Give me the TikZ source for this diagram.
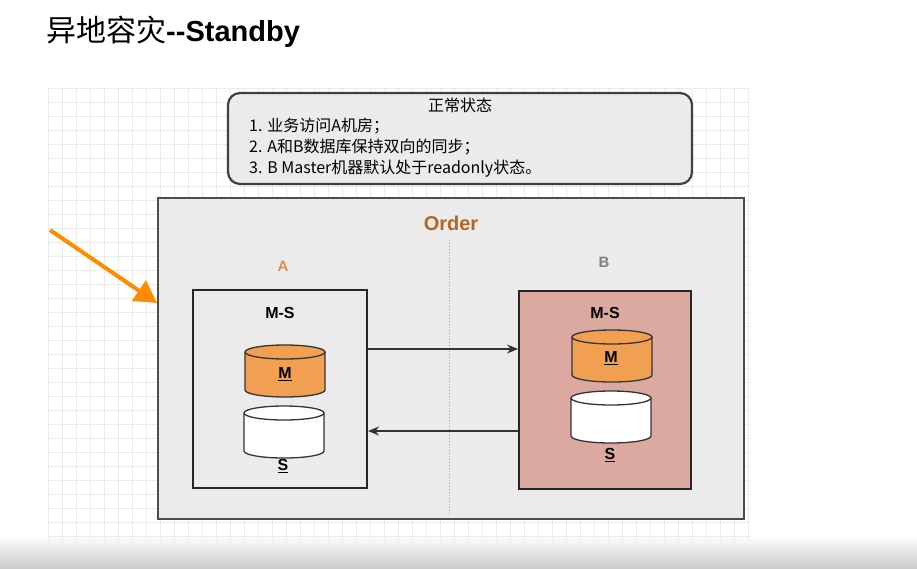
\documentclass[tikz,border=0pt]{standalone}
\usepackage{fontspec}
\setmainfont{Liberation Sans}
\newfontfamily\cjk{Noto Sans CJK SC}
\usetikzlibrary{arrows.meta}
\definecolor{boxgray}{HTML}{EBEBEB}
\definecolor{orderc}{HTML}{B5651D}
\definecolor{cylor}{HTML}{F0A050}
\definecolor{pinkb}{HTML}{DBA9A0}
\tikzset{
 dbbox/.style={draw=black!85,line width=1.8pt},
 lbl/.style={font=\bfseries\fontsize{16}{18}\selectfont},
 link/.style={-{Stealth[length=11pt,width=9pt]},line width=1.4pt,black!80},
 pics/cyl/.style={code={
   \fill[#1] (-40,-19) rectangle (40,19);
   \fill[#1] (0,19) ellipse[x radius=40,y radius=7];
   \fill[#1] (0,-19) ellipse[x radius=40,y radius=7];
   \draw[black!80,line width=1.3pt] (-40,-19) -- (-40,19) arc[start angle=180,end angle=0,x radius=40,y radius=7] -- (40,-19);
   \draw[black!80,line width=1.3pt] (0,-19) ellipse[x radius=40,y radius=7];
 }}
}
\begin{document}
\begin{tikzpicture}[x=1pt,y=-1pt]
\useasboundingbox (0,0) rectangle (917,568);
\fill[white] (0,0) rectangle (917,568);
\shade[top color=white,bottom color=black!20] (0,535) rectangle (917,568);
% grid
\foreach \x in {48,62,...,750} \draw[black!8,line width=0.5pt] (\x,88) -- (\x,540);
\foreach \y in {88,102,...,540} \draw[black!8,line width=0.5pt] (48,\y) -- (750,\y);
% title
\node[anchor=west,inner sep=0] (title) at (46,32) {{\cjk\fontsize{30}{34}\selectfont 异地容灾}{\bfseries\fontsize{29}{34}\selectfont {-}{-}Standby}};
% note
\draw[fill=boxgray,draw=black!75,line width=2.2pt,rounded corners=12pt] (228,93) rectangle (692,184);
\node (n0) at (460,105) {\cjk\fontsize{16}{18}\selectfont 正常状态};
\node[anchor=west,align=left,inner sep=0,font=\cjk\fontsize{16}{21}\selectfont] (note) at (249,148) {1. 业务访问A机房；\\2. A和B数据库保持双向的同步；\\3. B Master机器默认处于readonly状态。};
% order
\draw[fill=boxgray,draw=black!70,line width=2.2pt] (158,198) rectangle (744,519);
\node[text=orderc,font=\bfseries\fontsize{20}{22}\selectfont] (order) at (451,223) {Order};
\draw[black!40,dotted,line width=1pt] (449,240) -- (449,516);
\node[text=cylor!90!black,font=\bfseries\fontsize{15}{17}\selectfont] (la) at (283,266) {A};
\node[text=black!50,font=\bfseries\fontsize{15}{17}\selectfont] (lb) at (604,262) {B};
% A box
\draw[dbbox,fill=boxgray] (193,290) rectangle (367,488);
\node[lbl] (msa) at (280,313) {M-S};
\pic at (285,371) {cyl=cylor};
\node[lbl] (ma) at (285,374) {\underline{M}};
\pic at (284,432) {cyl=white};
\node[lbl] (sla) at (283,466) {\underline{S}};
% B box
\draw[dbbox,fill=pinkb] (519,291) rectangle (691,489);
\node[lbl] (msb) at (605,313) {M-S};
\pic at (612,356) {cyl=cylor};
\node[lbl] (mb) at (611,358) {\underline{M}};
\pic at (611,417) {cyl=white};
\node[lbl] (slb) at (610,455) {\underline{S}};
% arrows
\coordinate (a1) at (368,349); \coordinate (b1) at (518,349);
\coordinate (b2) at (518,431); \coordinate (a2) at (368,431);
\draw[link] (a1) -- (b1);
\draw[link] (b2) -- (a2);
\coordinate (o1) at (50,230); \coordinate (o2) at (157,303);
\draw[-{Triangle[length=22pt,width=24pt]},draw=orange!90!yellow,fill=orange!90!yellow,line width=4pt] (o1) -- (o2);
\end{tikzpicture}
\end{document}
